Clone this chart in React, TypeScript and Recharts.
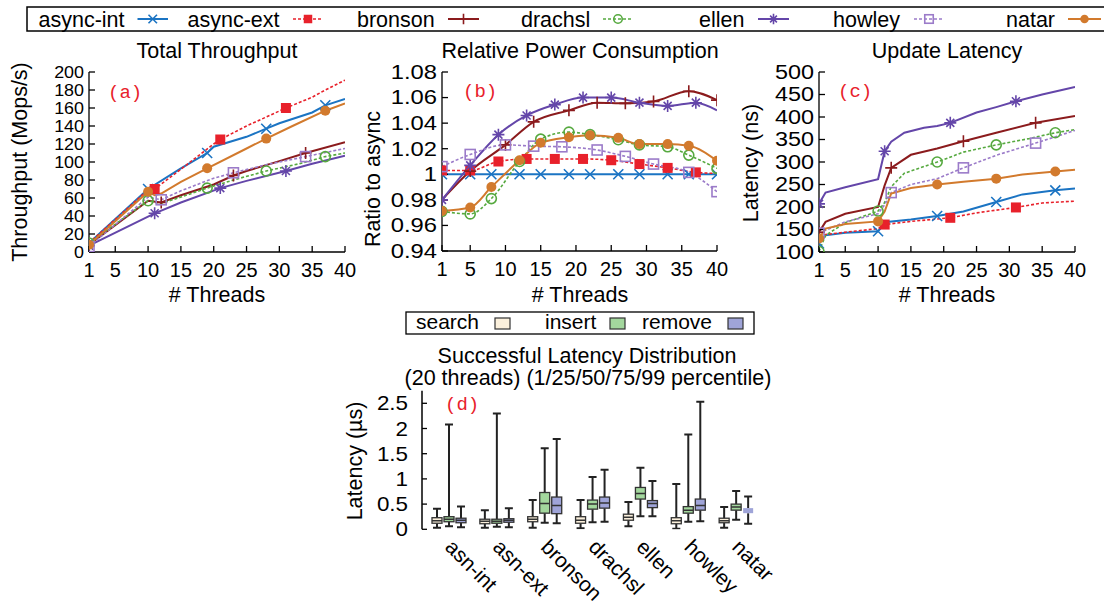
import React from 'react'
import { LineChart, Line, XAxis, YAxis, BarChart, Bar } from 'recharts'

const W = 1104
const H = 604
const FONT = '"Liberation Sans", Arial, Helvetica, sans-serif'
const MONO = '"Liberation Mono", "Courier New", monospace'

type Pt = [number, number]

const SERIES = ['async-int', 'async-ext', 'bronson', 'drachsl', 'ellen', 'howley', 'natar']
const THREAD_TICKS = [1, 5, 10, 15, 20, 25, 30, 35, 40]

// (a) total throughput, Mops/s
const tpAsyncInt: Pt[] = [[1, 10], [10, 70], [15, 93], [19, 110], [20, 117], [25, 128], [28, 137], [30, 143], [35, 155], [37, 163], [40, 170]]
const tpAsyncExt: Pt[] = [[1, 10], [10, 69], [11, 70], [15, 92], [20, 120], [21, 125], [25, 140], [28, 150], [31, 160], [35, 172], [37, 180], [40, 191]]
const tpBronson: Pt[] = [[1, 8], [10, 57], [12, 55], [15, 63], [20, 75], [23, 85], [25, 90], [30, 101], [34, 110], [40, 122]]
const tpDrachsl: Pt[] = [[1, 10], [10, 57], [12, 54], [15, 61], [19, 71], [23, 80], [28, 90], [33, 98], [37, 106], [40, 110]]
const tpEllen: Pt[] = [[1, 7], [11, 43], [15, 55], [21, 71], [25, 79], [31, 90], [35, 98], [40, 107]]
const tpHowley: Pt[] = [[1, 6], [10, 61], [12, 58], [15, 68], [20, 82], [23, 88], [28, 97], [34, 106], [40, 115]]
const tpNatar: Pt[] = [[1, 8], [10, 67], [11, 63], [12, 65], [15, 78], [19, 93], [25, 115], [28, 126], [32, 140], [37, 157], [40, 165]]
const TP_TICKS = [0, 20, 40, 60, 80, 100, 120, 140, 160, 180, 200]
const TP_MARKS: Record<string, number[]> = {
  'async-int': [10, 19, 28, 37],
  'async-ext': [11, 21, 31],
  bronson: [12, 23, 34],
  drachsl: [1, 10, 19, 28, 37],
  ellen: [1, 11, 21, 31],
  howley: [1, 12, 23, 34],
  natar: [1, 10, 19, 28, 37],
}

// (b) relative power consumption, ratio to async
const pwAsyncInt: Pt[] = [[1, 1], [5, 1], [8, 1], [12, 1], [15, 1], [19, 1], [22, 1], [26, 1], [29, 1], [33, 1], [36, 1], [40, 1]]
const pwAsyncExt: Pt[] = [[1, 1.003], [5, 1.003], [9, 1.01], [13, 1.012], [17, 1.012], [21, 1.012], [25, 1.011], [29, 1.008], [33, 1.005], [37, 1.0015], [40, 1.0007]]
const pwBronson: Pt[] = [[1, 0.98], [5, 1.0025], [10, 1.023], [14, 1.041], [19, 1.05], [23, 1.056], [27, 1.0555], [31, 1.057], [36, 1.065], [40, 1.058]]
const pwDrachsl: Pt[] = [[1, 0.971], [5, 0.969], [8, 0.981], [12, 1.01], [15, 1.0275], [19, 1.033], [22, 1.031], [26, 1.027], [29, 1.023], [33, 1.0215], [36, 1.015], [40, 1.0046]]
const pwEllen: Pt[] = [[1, 0.98], [5, 1.007], [9, 1.031], [13, 1.046], [17, 1.0545], [21, 1.06], [25, 1.06], [29, 1.056], [33, 1.0535], [37, 1.056], [40, 1.05]]
const pwHowley: Pt[] = [[1, 1.006], [5, 1.0155], [10, 1.023], [14, 1.022], [18, 1.0215], [23, 1.019], [27, 1.014], [31, 1.008], [36, 1.0015], [40, 0.9864]]
const pwNatar: Pt[] = [[1, 0.9713], [5, 0.974], [8, 0.99], [12, 1.011], [15, 1.0246], [19, 1.029], [22, 1.0306], [26, 1.0285], [29, 1.0236], [33, 1.0236], [36, 1.0223], [40, 1.0106]]
const PW_TICKS = [0.94, 0.96, 0.98, 1, 1.02, 1.04, 1.06, 1.08]
const PW_MARKS: Record<string, number[]> = {
  'async-ext': [1, 5, 9, 13, 17, 21, 25, 29, 33, 37],
  ellen: [1, 5, 9, 13, 17, 21, 25, 29, 33, 37],
}

// (c) update latency, ns
const ltAsyncInt: Pt[] = [[1, 119], [2, 137], [5, 143], [10, 146], [11, 166], [15, 172], [19, 180], [23, 190], [28, 211], [32, 228], [37, 237], [40, 241]]
const ltAsyncExt: Pt[] = [[1, 137], [5, 144], [10, 152], [11, 161], [15, 168], [21, 176], [25, 187], [31, 199], [35, 209], [40, 213]]
const ltBronson: Pt[] = [[1, 144], [2, 167], [5, 185], [10, 200], [11, 248], [12, 287], [15, 316], [19, 330], [23, 346], [28, 365], [34, 387], [40, 402]]
const ltDrachsl: Pt[] = [[1, 101], [2, 137], [5, 165], [10, 191], [11, 210], [12, 245], [14, 275], [19, 300], [23, 322], [28, 338], [33, 352], [37, 365], [40, 372]]
const ltEllen: Pt[] = [[1, 207], [2, 232], [5, 244], [10, 262], [11, 324], [12, 345], [14, 365], [17, 376], [19, 380], [21, 387], [25, 410], [28, 422], [31, 435], [35, 450], [38, 460], [40, 467]]
const ltHowley: Pt[] = [[1, 142], [5, 167], [10, 185], [11, 205], [12, 232], [15, 250], [19, 263], [23, 287], [28, 315], [34, 342], [40, 370]]
const ltNatar: Pt[] = [[1, 130], [2, 152], [5, 162], [10, 168], [11, 190], [12, 230], [15, 242], [19, 250], [23, 256], [28, 263], [32, 272], [37, 279], [40, 283]]
const LT_TICKS = [100, 150, 200, 250, 300, 350, 400, 450, 500]
const LT_MARKS: Record<string, number[]> = {
  'async-int': [1, 10, 19, 28, 37],
  'async-ext': [11, 21, 31],
  bronson: [1, 12, 23, 34],
  drachsl: [1, 10, 19, 28, 37],
  ellen: [1, 11, 21, 31],
  howley: [1, 12, 23, 34],
  natar: [1, 10, 19, 28, 37],
}

// (d) latency distribution at 20 threads, µs: [p1, p25, p50, p75, p99]
const BOX_CATS = ['asn-int', 'asn-ext', 'bronson', 'drachsl', 'ellen', 'howley', 'natar']
const OPS = ['search', 'insert', 'remove']
const SEARCH = [[0.03, 0.12, 0.17, 0.23, 0.41], [0.03, 0.11, 0.16, 0.2, 0.38], [0.03, 0.15, 0.2, 0.25, 0.58], [0.02, 0.12, 0.18, 0.25, 0.58], [0.06, 0.18, 0.24, 0.3, 0.54], [0.01, 0.11, 0.17, 0.23, 0.9], [0.03, 0.13, 0.17, 0.22, 0.44]]
const INSERT = [[0.06, 0.15, 0.2, 0.25, 2.08], [0.05, 0.12, 0.16, 0.2, 2.3], [0.13, 0.32, 0.51, 0.73, 1.61], [0.14, 0.4, 0.5, 0.58, 1.04], [0.26, 0.6, 0.71, 0.83, 1.22], [0.15, 0.32, 0.38, 0.45, 1.88], [0.19, 0.38, 0.44, 0.5, 0.76]]
const REMOVE = [[0.04, 0.13, 0.18, 0.22, 0.45], [0.04, 0.14, 0.18, 0.21, 0.42], [0.12, 0.31, 0.47, 0.64, 1.79], [0.15, 0.42, 0.52, 0.64, 1.18], [0.26, 0.43, 0.51, 0.57, 0.96], [0.16, 0.38, 0.47, 0.6, 2.53], [0.11, 0.32, 0.37, 0.42, 0.65]]
const BOX_TICKS = [0, 0.5, 1, 1.5, 2, 2.5]

const STYLE: Record<string, { color: string; dash?: string; mark: string }> = {
  'async-int': { color: '#1b74c3', mark: 'x' },
  'async-ext': { color: '#e8212b', dash: '3 2', mark: 'fsq' },
  bronson: { color: '#8b1b1d', mark: 'plus' },
  drachsl: { color: '#56a93f', dash: '3 2', mark: 'circ' },
  ellen: { color: '#6446a9', mark: 'star' },
  howley: { color: '#9b7bc9', dash: '3 2', mark: 'osq' },
  natar: { color: '#d27a2d', mark: 'dot' },
}
const OP_FILL: Record<string, string> = { search: '#fbf0dc', insert: '#a3d79d', remove: '#9fa4d8' }

function Marker({ kind, x, y, color, s = 1 }: { kind: string; x: number; y: number; color: string; s?: number }) {
  const r = 5 * s
  const sw = 1.6
  if (kind === 'x') return <path d={`M${x - r},${y - r}L${x + r},${y + r}M${x - r},${y + r}L${x + r},${y - r}`} stroke={color} strokeWidth={sw} />
  if (kind === 'plus') return <path d={`M${x - r - 1},${y}H${x + r + 1}M${x},${y - r - 1}V${y + r + 1}`} stroke={color} strokeWidth={sw} />
  if (kind === 'star') {
    const d = r * 0.8
    return <path d={`M${x - r - 1},${y}H${x + r + 1}M${x},${y - r - 1}V${y + r + 1}M${x - d},${y - d}L${x + d},${y + d}M${x - d},${y + d}L${x + d},${y - d}`} stroke={color} strokeWidth={sw} />
  }
  if (kind === 'fsq') return <rect x={x - r} y={y - r} width={2 * r} height={2 * r} fill={color} />
  if (kind === 'osq') return <rect x={x - r} y={y - r} width={2 * r} height={2 * r} fill="none" stroke={color} strokeWidth={sw} />
  if (kind === 'circ') return <circle cx={x} cy={y} r={r} fill="none" stroke={color} strokeWidth={sw} />
  return <circle cx={x} cy={y} r={r} fill={color} />
}

const makeDot = (name: string, marks?: number[]) => (p: any) => {
  const { cx, cy, payload, index } = p
  if (marks && !marks.includes(payload.t)) return <g key={`d${name}${index}`} />
  const st = STYLE[name]
  return <g key={`d${name}${index}`}><Marker kind={st.mark} x={cx} y={cy} color={st.color} /></g>
}

const EmptyTick = () => <g />

type Panel = {
  x0: number; x1: number; y0: number; y1: number
  domain: [number, number]; ticks: number[]; fmt: (v: number) => string
  tickFont: number; tickScale: number
  data: Record<string, Pt[]>; marks: Record<string, number[]>; all: boolean; curve: 'linear' | 'monotone'
}

function ThreadPanel({ p }: { p: Panel }) {
  const margin = { left: p.x0 - 50, right: W - p.x1, top: p.y0, bottom: H - p.y1 - 48 }
  const axisStroke = { stroke: '#000', strokeWidth: 1.3 }
  return (
    <div style={{ position: 'absolute', left: 0, top: 0 }}>
      <LineChart width={W} height={H} margin={margin}>
        <XAxis
          dataKey="t" type="number" domain={[1, 40]} ticks={THREAD_TICKS} allowDataOverflow interval={0}
          height={48} tickSize={-6} tickMargin={17} axisLine={axisStroke} tickLine={axisStroke}
          tick={(t: any) => (
            <text x={t.x} y={t.y} dy="0.71em" textAnchor="middle" fontSize={20} fontFamily={FONT} fill="#000">{t.payload.value}</text>
          )}
        />
        <XAxis xAxisId="m" orientation="top" type="number" domain={[1, 40]} ticks={THREAD_TICKS} allowDataOverflow interval={0}
          height={0} tickSize={-6} axisLine={axisStroke} tickLine={axisStroke} tick={EmptyTick} />
        <YAxis
          type="number" domain={p.domain} ticks={p.ticks} allowDataOverflow interval={0}
          width={50} tickSize={-6} tickMargin={11} axisLine={axisStroke} tickLine={axisStroke}
          tick={(t: any) => (
            <text transform={`translate(${t.x},${t.y}) scale(${p.tickScale},1)`} dy="0.35em" textAnchor="end"
              fontSize={p.tickFont} fontFamily={FONT} fill="#000">{p.fmt(t.payload.value)}</text>
          )}
        />
        <YAxis yAxisId="m" orientation="right" type="number" domain={p.domain} ticks={p.ticks} allowDataOverflow interval={0}
          width={0} tickSize={-6} axisLine={axisStroke} tickLine={axisStroke} tick={EmptyTick} />
        {SERIES.map(name => {
          const st = STYLE[name]
          const marks = p.all ? p.marks[name] : p.marks[name] || []
          return (
            <Line
              key={name}
              data={p.data[name].map(([t, v]) => ({ t, v }))}
              dataKey="v"
              type={p.curve}
              stroke={st.color}
              strokeWidth={st.dash ? 1.6 : 2}
              strokeDasharray={st.dash}
              dot={makeDot(name, marks)}
              activeDot={false}
              isAnimationActive={false}
            />
          )
        })}
      </LineChart>
    </div>
  )
}

const PANELS: Panel[] = [
  {
    x0: 89, x1: 345, y0: 72, y1: 252, domain: [0, 200], ticks: TP_TICKS, fmt: v => String(v), tickFont: 16, tickScale: 1.12,
    data: { 'async-int': tpAsyncInt, 'async-ext': tpAsyncExt, bronson: tpBronson, drachsl: tpDrachsl, ellen: tpEllen, howley: tpHowley, natar: tpNatar },
    marks: TP_MARKS, all: false, curve: 'linear',
  },
  {
    x0: 442, x1: 717, y0: 72, y1: 251, domain: [0.94, 1.08], ticks: PW_TICKS, fmt: v => (v === 1 ? '1' : v.toFixed(2)), tickFont: 19.5, tickScale: 1.22,
    data: { 'async-int': pwAsyncInt, 'async-ext': pwAsyncExt, bronson: pwBronson, drachsl: pwDrachsl, ellen: pwEllen, howley: pwHowley, natar: pwNatar },
    marks: PW_MARKS, all: true, curve: 'monotone',
  },
  {
    x0: 819, x1: 1075, y0: 72, y1: 252, domain: [100, 500], ticks: LT_TICKS, fmt: v => String(v), tickFont: 19.5, tickScale: 1.2,
    data: { 'async-int': ltAsyncInt, 'async-ext': ltAsyncExt, bronson: ltBronson, drachsl: ltDrachsl, ellen: ltEllen, howley: ltHowley, natar: ltNatar },
    marks: LT_MARKS, all: false, curve: 'linear',
  },
]

function BoxShape(props: any) {
  const { x, y, width, height, payload, op } = props
  const s: number[] = payload.stats[op]
  const lo = s[0]
  const hi = s[4]
  const py = (v: number) => y + (height * (hi - v)) / (hi - lo)
  const cx = x + width / 2
  const plain = payload.cat === 'natar' && op === 'remove'
  const ink = '#222'
  return (
    <g>
      <line x1={cx} x2={cx} y1={py(hi)} y2={py(s[3])} stroke={ink} strokeWidth={2} />
      <line x1={cx} x2={cx} y1={py(s[1])} y2={py(lo)} stroke={ink} strokeWidth={2} />
      <line x1={cx - 4} x2={cx + 4} y1={py(hi)} y2={py(hi)} stroke={ink} strokeWidth={2} />
      <line x1={cx - 4} x2={cx + 4} y1={py(lo)} y2={py(lo)} stroke={ink} strokeWidth={2} />
      <rect x={x} y={py(s[3])} width={width} height={py(s[1]) - py(s[3])} fill={OP_FILL[op]}
        stroke={plain ? 'none' : '#333'} strokeWidth={1.3} />
      {!plain && <line x1={x} x2={x + width} y1={py(s[2])} y2={py(s[2])} stroke="#333" strokeWidth={1.5} />}
    </g>
  )
}

function BoxPanel() {
  const rows = BOX_CATS.map((cat, i) => ({
    cat,
    search: [SEARCH[i][0], SEARCH[i][4]],
    insert: [INSERT[i][0], INSERT[i][4]],
    remove: [REMOVE[i][0], REMOVE[i][4]],
    stats: { search: SEARCH[i], insert: INSERT[i], remove: REMOVE[i] },
  }))
  const y0 = 390.7
  const y1 = 529.3
  return (
    <div style={{ position: 'absolute', left: 0, top: 0 }}>
      <BarChart width={W} height={H} data={rows} margin={{ left: 422 - 50, right: W - 760, top: y0, bottom: H - y1 - 40 }}
        barSize={10} barGap={2}>
        <XAxis dataKey="cat" padding={{ left: 3, right: 0 }} axisLine={false} tickLine={false} interval={0}
          height={40} tickSize={0} tickMargin={0}
          tick={(t: any) => (
            <text transform={`translate(${t.x - 5},${t.y + 19}) rotate(45)`} fontSize={21} fontFamily={FONT} fill="#000">{t.payload.value}</text>
          )}
        />
        <YAxis type="number" domain={[0, 2.75]} ticks={BOX_TICKS} allowDataOverflow interval={0}
          width={50} tickSize={-5} tickMargin={19}
          axisLine={{ stroke: '#000', strokeWidth: 1.5 }} tickLine={{ stroke: '#000', strokeWidth: 1.3 }}
          tick={(t: any) => (
            <text transform={`translate(${t.x},${t.y}) scale(1.12,1)`} dy="0.35em" textAnchor="end" fontSize={20} fontFamily={FONT} fill="#000">{t.payload.value}</text>
          )}
        />
        {OPS.map(op => (
          <Bar key={op} dataKey={op} isAnimationActive={false} shape={(p: any) => <BoxShape {...p} op={op} />} />
        ))}
      </BarChart>
    </div>
  )
}

const LEGEND = [
  { name: 'async-int', tx: 38.5, l0: 137.5, l1: 168 },
  { name: 'async-ext', tx: 187.5, l0: 293, l1: 323 },
  { name: 'bronson', tx: 357, l0: 448, l1: 479 },
  { name: 'drachsl', tx: 521, l0: 603, l1: 633 },
  { name: 'ellen', tx: 699, l0: 758, l1: 789 },
  { name: 'howley', tx: 833, l0: 914, l1: 944 },
  { name: 'natar', tx: 1006, l0: 1068, l1: 1101 },
]

function Overlay() {
  const t = { fontFamily: FONT, fontSize: 21.5, fill: '#000' }
  const red = { fontFamily: MONO, fontSize: 19, fill: '#e8212b' }
  return (
    <svg width={W} height={H} style={{ position: 'absolute', left: 0, top: 0, pointerEvents: 'none' }}>
      <rect x={27} y={7} width={1095} height={24} fill="none" stroke="#000" strokeWidth={1.5} />
      {LEGEND.map(it => {
        const st = STYLE[it.name]
        return (
          <g key={it.name}>
            <text x={it.tx} y={27} {...t}>{it.name}</text>
            <line x1={it.l0} x2={it.l1} y1={19} y2={19} stroke={st.color} strokeWidth={st.dash ? 1.6 : 2} strokeDasharray={st.dash} />
            <Marker kind={st.mark} x={(it.l0 + it.l1) / 2} y={19} color={st.color} s={0.85} />
          </g>
        )
      })}

      <text x={217} y={58} textAnchor="middle" {...t}>Total Throughput</text>
      <text x={580} y={58} textAnchor="middle" {...t}>Relative Power Consumption</text>
      <text x={947} y={58} textAnchor="middle" {...t}>Update Latency</text>
      <text x={217} y={302} textAnchor="middle" {...t}># Threads</text>
      <text x={580} y={302} textAnchor="middle" {...t}># Threads</text>
      <text x={947} y={302} textAnchor="middle" {...t}># Threads</text>
      <text transform="translate(27,162) rotate(-90)" textAnchor="middle" {...t}>Throughput (Mops/s)</text>
      <text transform="translate(380,179) rotate(-90)" textAnchor="middle" {...t}>Ratio to async</text>
      <text transform="translate(758,163) rotate(-90)" textAnchor="middle" {...t}>Latency (ns)</text>
      <text transform="translate(362,461) rotate(-90)" textAnchor="middle" {...t}>Latency (µs)</text>

      <text x={108} y={98} {...red}>(a)</text>
      <text x={463} y={97} {...red}>(b)</text>
      <text x={838} y={97} {...red}>(c)</text>
      <text x={445} y={410} {...red}>(d)</text>

      <rect x={406} y={312} width={348} height={22} fill="none" stroke="#000" strokeWidth={1.3} />
      <text x={416} y={329} {...t} fontSize={21}>search</text>
      <rect x={495} y={318} width={15} height={11} fill={OP_FILL.search} stroke="#333" strokeWidth={1.2} />
      <text x={545} y={329} {...t} fontSize={21}>insert</text>
      <rect x={610} y={318} width={15} height={11} fill={OP_FILL.insert} stroke="#333" strokeWidth={1.2} />
      <text x={642} y={329} {...t} fontSize={21}>remove</text>
      <rect x={728} y={318} width={15} height={11} fill={OP_FILL.remove} stroke="#333" strokeWidth={1.2} />

      <text x={587} y={363} textAnchor="middle" {...t}>Successful Latency Distribution</text>
      <text x={588} y={385} textAnchor="middle" {...t}>(20 threads) (1/25/50/75/99 percentile)</text>
    </svg>
  )
}

export default function App() {
  return (
    <div style={{ position: 'fixed', left: 0, top: 0, width: W, height: H, background: '#fff', overflow: 'hidden' }}>
      {PANELS.map((p, i) => <ThreadPanel key={i} p={p} />)}
      <BoxPanel />
      <Overlay />
    </div>
  )
}
